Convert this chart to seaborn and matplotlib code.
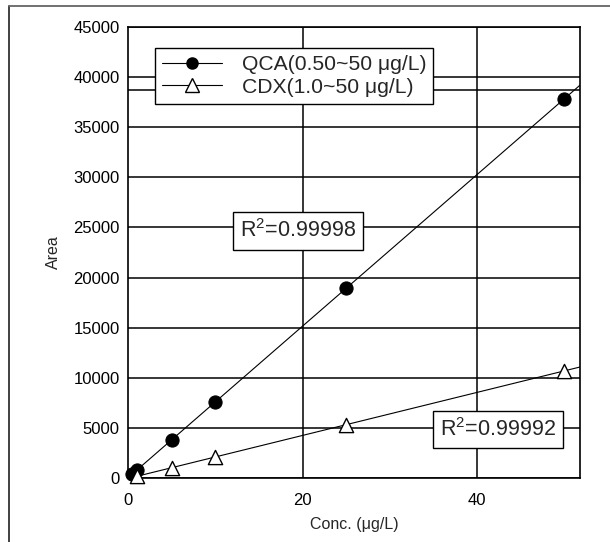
import matplotlib
matplotlib.use("Agg")
import matplotlib.pyplot as plt
import seaborn as sns
import numpy as np
import pandas as pd
from matplotlib.lines import Line2D

# Data
qca_conc = [0.5, 1.0, 5.0, 10.0, 25.0, 50.0]
qca_area = [380, 760, 3800, 7600, 19000, 37800]
cdx_conc = [1.0, 5.0, 10.0, 25.0, 50.0]
cdx_area = [200, 1000, 2100, 5300, 10700]
qca_label = "QCA(0.50~50 μg/L)"
cdx_label = "CDX(1.0~50 μg/L)"
r2_qca = "R$^2$=0.99998"
r2_cdx = "R$^2$=0.99992"
x_ticks = [0, 20, 40]
y_ticks = list(range(0, 45001, 5000))

sns.set_style("white")
plt.rcParams['font.family'] = ['Liberation Sans', 'DejaVu Sans']
plt.rcParams['mathtext.fontset'] = 'custom'
plt.rcParams['mathtext.rm'] = 'Liberation Sans'

W, H = 610, 542
fig = plt.figure(figsize=(W / 100, H / 100), dpi=100)
fig.patch.set_facecolor("white")
L, R, T, B = 128, 580, 27, 478
ax = fig.add_axes([L / W, 1 - B / H, (R - L) / W, (B - T) / H])

# outer frame (top and left visible)
fig.add_artist(Line2D([9 / W, 9 / W], [0, 1 - 6 / H], color="#333333", lw=1.3))
fig.add_artist(Line2D([9 / W, 1], [1 - 6 / H, 1 - 6 / H], color="#666666", lw=1.3))

ax.set_xlim(0, 51.8)
ax.set_ylim(0, 45000)
ax.set_xticks(x_ticks)
ax.set_yticks(y_ticks)

# grid
for yv in y_ticks:
    ax.axhline(yv, color="black", lw=1.1, zorder=1)
for xv in x_ticks[1:]:
    ax.axvline(xv, color="black", lw=1.1, zorder=1)
ax.axhline(38700, color="black", lw=1.1, zorder=1)

qca = pd.DataFrame({"conc": qca_conc, "area": qca_area})
cdx = pd.DataFrame({"conc": cdx_conc, "area": cdx_area})

sns.regplot(data=qca, x="conc", y="area", ax=ax, ci=None, truncate=False,
            scatter=False, line_kws=dict(color="black", lw=0.8, zorder=3))
sns.regplot(data=cdx, x="conc", y="area", ax=ax, ci=None, truncate=False,
            scatter=False, line_kws=dict(color="black", lw=0.8, zorder=3))
sns.scatterplot(data=qca, x="conc", y="area", ax=ax, marker="o", s=90,
                color="black", edgecolor="black", zorder=4, clip_on=False)
sns.scatterplot(data=cdx, x="conc", y="area", ax=ax, marker="^", s=105,
                facecolor="white", edgecolor="black", linewidth=1.0, zorder=4, clip_on=False)
ax.set_xlim(0, 51.8)
ax.set_ylim(0, 45000)

for s in ax.spines.values():
    s.set_color("black")
    s.set_linewidth(1.2)

ax.tick_params(direction="in", length=5, width=1.2, labelsize=12, color="black",
               labelcolor="black")
ax.tick_params(axis="x", pad=11)
ax.tick_params(axis="y", pad=6)
ax.set_xlabel("Conc. (μg/L)", fontsize=11.5, labelpad=6)
ax.set_ylabel("Area", fontsize=11.5, labelpad=9)

handles = [
    Line2D([], [], color="black", lw=0.8, marker="o", markersize=8,
           markerfacecolor="black", markeredgecolor="black"),
    Line2D([], [], color="black", lw=0.8, marker="^", markersize=10,
           markerfacecolor="white", markeredgecolor="black"),
]
leg = ax.legend(handles, [qca_label, cdx_label], loc="upper left",
                bbox_to_anchor=(0.06, 0.953), borderaxespad=0, fontsize=15.2,
                frameon=True, fancybox=False, edgecolor="black", framealpha=1,
                handlelength=2.85, labelspacing=0.18, borderpad=0.32,
                handletextpad=0.95)
leg.get_frame().set_linewidth(1.0)
leg.set_zorder(6)

bbox = dict(boxstyle="square,pad=0.33", facecolor="white", edgecolor="black", lw=1.0)
ax.text(19.5, 24650, r2_qca, ha="center", va="center", fontsize=15.5, bbox=bbox, zorder=6)
ax.text(42.4, 4800, r2_cdx, ha="center", va="center", fontsize=15.5, bbox=bbox, zorder=6)

fig.savefig("out.png", dpi=100, facecolor="white")
